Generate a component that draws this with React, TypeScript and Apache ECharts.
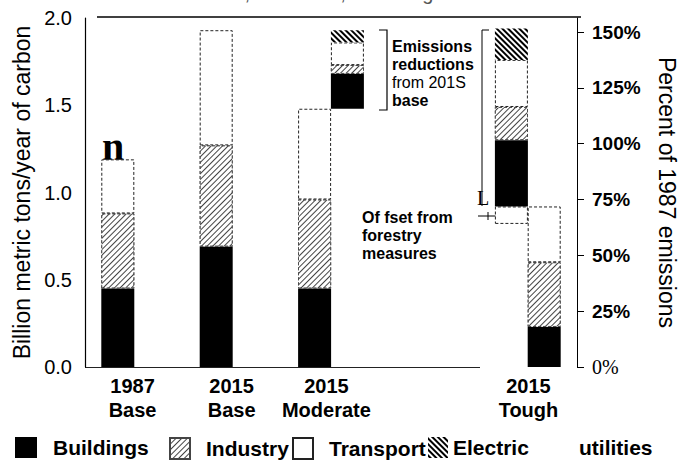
import React, { useEffect, useRef } from 'react';
import * as echarts from 'echarts';

// ---- data ----
const slotCount = 16;
const barNames = ['1987 Base', '2015 Base', '2015 Moderate', 'Moderate reductions', 'Tough reductions', '2015 Tough'];
const barSlots = [1, 4, 7, 8, 13, 14];
const buildings = [0.45, 0.69, 0.45, 0.20, 0.38, 0.23];
const industry = [0.43, 0.58, 0.51, 0.05, 0.19, 0.37];
const transport = [0.31, 0.66, 0.52, 0.13, 0.27, 0.32];
const electric = [0, 0, 0, 0.07, 0.18, 0];
const forestryOffset = [0, 0, 0, 0, 0.10, 0];
const floatBase = [0, 0, 0, 1.48, 0.82, 0];

const groupLabels = ['1987\nBase', '2015\nBase', '2015\nModerate', '2015\nTough'];
const groupLabelPos = [1.45, 4.47, 7.36, 13.52];
const rightTicks = [0, 25, 50, 75, 100, 125, 150];

const FONT = '"Liberation Sans", Arial, Helvetica, sans-serif';

const slotNames = Array.from({ length: slotCount }, (_, i) => {
  const k = barSlots.indexOf(i);
  return k >= 0 ? barNames[k] : 'slot' + i;
});

const expand = (arr: number[]) =>
  Array.from({ length: slotCount }, (_, i) => {
    const k = barSlots.indexOf(i);
    return k >= 0 && arr[k] ? arr[k] : '-';
  });

export default function App() {
  const ref = useRef<HTMLDivElement>(null);
  useEffect(() => {
    if (!ref.current) return;
    const chart = echarts.init(ref.current, null, { renderer: 'svg' });
    const barW = 33;
    const dashed = { borderColor: '#222', borderWidth: 1, borderType: [3, 2] as any };
    const legendText = {
      fontFamily: FONT,
      fontSize: 21,
      fontWeight: 'bold' as const,
      color: '#000',
      padding: [0, 0, 0, 11],
    };
    const mkLegend = (name: string, left: number, w = 22) => ({
      data: [name],
      left,
      top: 437,
      padding: 0,
      icon: 'rect',
      itemWidth: w,
      itemHeight: 21,
      selectedMode: false,
      textStyle: { ...legendText },
    });
    const option: any = {
      animation: false,
      backgroundColor: '#fff',
      grid: { left: 85, top: 18, width: 497, height: 349, containLabel: false },
      legend: [
        mkLegend('Buildings', 15),
        mkLegend('Industry', 169, 20),
        mkLegend('Transport', 292, 20),
        {
          ...mkLegend('Electric utilities', 428, 20),
          formatter: () => '{a|Electric}{b|utilities}',
          textStyle: {
            ...legendText,
            padding: 0,
            rich: {
              a: { fontFamily: FONT, fontSize: 21, fontWeight: 'bold', color: '#000', width: 126 },
              b: { fontFamily: FONT, fontSize: 21, fontWeight: 'bold', color: '#000' },
            },
          },
        },
      ],
      xAxis: [
        {
          type: 'category',
          data: slotNames,
          boundaryGap: false,
          axisLine: { show: false },
          axisTick: { show: false },
          axisLabel: { show: false },
          splitLine: { show: false },
        },
        {
          type: 'value',
          min: 0,
          max: 15,
          position: 'bottom',
          axisLine: { show: false },
          axisTick: { show: false },
          splitLine: { show: false },
          axisLabel: {
            customValues: groupLabelPos,
            formatter: (v: number) => {
              const k = groupLabelPos.findIndex((p) => Math.abs(p - v) < 0.01);
              return k >= 0 ? groupLabels[k] : '';
            },
            fontFamily: FONT,
            fontSize: 20,
            fontWeight: 'bold',
            lineHeight: 24,
            margin: 7,
            color: '#000',
          },
        },
      ],
      yAxis: [
        {
          type: 'value',
          min: 0,
          max: 2,
          interval: 0.5,
          position: 'left',
          axisLine: { show: true, lineStyle: { color: '#000', width: 1.2 } },
          axisTick: { show: false },
          splitLine: { show: false },
          axisLabel: {
            formatter: (v: number) => v.toFixed(1),
            fontFamily: FONT,
            fontSize: 20,
            margin: 13,
            color: '#000',
          },
          name: 'Billion metric tons/year of carbon',
          nameLocation: 'middle',
          nameRotate: 90,
          nameGap: 36,
          nameTextStyle: { fontFamily: FONT, fontSize: 23, color: '#000' },
        },
        {
          type: 'value',
          min: 0,
          max: 156.27,
          position: 'right',
          axisLine: { show: true, lineStyle: { color: '#000', width: 1 } },
          axisTick: { show: true, customValues: rightTicks, length: 7, lineStyle: { color: '#000' } },
          splitLine: { show: false },
          axisLabel: {
            customValues: rightTicks,
            formatter: (v: number) => (rightTicks.includes(v) ? (v === 0 ? '{s|0%}' : v + '%') : ''),
            fontFamily: FONT,
            fontSize: 19,
            fontWeight: 'bold',
            margin: 15,
            color: '#000',
            rich: { s: { fontFamily: '"Liberation Serif", serif', fontSize: 20, fontWeight: 'normal', color: '#000' } },
          },
          name: 'Percent of 1987 emissions',
          nameLocation: 'middle',
          nameRotate: -90,
          nameGap: 78,
          nameTextStyle: { fontFamily: FONT, fontSize: 23, color: '#000' },
        },
      ],
      series: [
        {
          name: 'base',
          type: 'bar',
          stack: 'a',
          barWidth: barW,
          silent: true,
          data: expand(floatBase),
          itemStyle: { color: 'rgba(0,0,0,0)' },
        },
        {
          name: 'Forestry offset',
          type: 'bar',
          stack: 'a',
          barWidth: barW,
          data: expand(forestryOffset),
          itemStyle: { color: '#fff', ...dashed },
        },
        {
          name: 'Buildings',
          type: 'bar',
          stack: 'a',
          barWidth: barW,
          data: expand(buildings),
          itemStyle: { color: '#000' },
        },
        {
          name: 'Industry',
          type: 'bar',
          stack: 'a',
          barWidth: barW,
          data: expand(industry),
          itemStyle: {
            color: '#fff',
            borderColor: '#444',
            borderWidth: 0.8,
            borderType: [3, 2],
            decal: {
              symbol: 'rect',
              symbolSize: 1,
              color: '#444',
              backgroundColor: '#fff',
              dashArrayX: [1, 0],
              dashArrayY: [1, 3],
              rotation: -Math.PI / 4,
            },
          },
        },
        {
          name: 'Transport',
          type: 'bar',
          stack: 'a',
          barWidth: barW,
          data: expand(transport),
          itemStyle: { color: '#fff', ...dashed },
        },
        {
          name: 'Electric utilities',
          type: 'bar',
          stack: 'a',
          barWidth: barW,
          data: expand(electric),
          itemStyle: {
            color: '#fff',
            decal: {
              symbol: 'rect',
              symbolSize: 1,
              color: '#000',
              backgroundColor: '#fff',
              dashArrayX: [1, 0],
              dashArrayY: [2, 1.5],
              rotation: Math.PI / 4,
            },
          },
        },
      ],
      graphic: [
        {
          type: 'text',
          left: 'center',
          top: -17,
          style: {
            text: 'Base Case, Moderate, and Tough Scenarios',
            font: '20px "Liberation Sans", Arial, sans-serif',
            fill: '#555',
          },
        },
        { type: 'line', shape: { x1: 97, y1: 17, x2: 581, y2: 17 }, style: { stroke: '#000', lineWidth: 1.5 } },
        { type: 'line', shape: { x1: 85, y1: 367.5, x2: 480, y2: 367.5 }, style: { stroke: '#222', lineWidth: 1 } },
        {
          type: 'text',
          x: 102,
          y: 166,
          style: { text: 'n', font: 'bold 40px "Liberation Serif", serif', fill: '#000', verticalAlign: 'bottom' },
        },
        {
          type: 'polyline',
          shape: { points: [[379, 30], [387, 30], [387, 110], [379, 110]] },
          style: { stroke: '#000', lineWidth: 1.2, fill: 'none' },
        },
        {
          type: 'text',
          x: 392,
          y: 37,
          style: {
            text: '{b|Emissions}\n{b|reductions}\n{r|from 201S}\n{b|base}',
            rich: {
              b: { font: 'bold 16px "Liberation Sans", Arial, sans-serif', fill: '#000', lineHeight: 18 },
              r: { font: '16px "Liberation Sans", Arial, sans-serif', fill: '#000', lineHeight: 18 },
            },
          },
        },
        {
          type: 'polyline',
          shape: { points: [[489, 30], [482, 30], [482, 206]] },
          style: { stroke: '#000', lineWidth: 1, fill: 'none' },
        },
        {
          type: 'text',
          x: 477,
          y: 208,
          style: { text: 'L', font: '20px "Liberation Serif", serif', fill: '#000', verticalAlign: 'bottom' },
        },
        { type: 'line', shape: { x1: 478, y1: 216, x2: 497, y2: 216 }, style: { stroke: '#000', lineWidth: 1 } },
        { type: 'line', shape: { x1: 488, y1: 212, x2: 488, y2: 220 }, style: { stroke: '#000', lineWidth: 1 } },
        {
          type: 'text',
          x: 362,
          y: 208,
          style: {
            text: 'Of fset from\nforestry\nmeasures',
            font: 'bold 16px "Liberation Sans", Arial, sans-serif',
            fill: '#000',
            lineHeight: 18,
          },
        },
      ],
    };
    chart.setOption(option);
    return () => chart.dispose();
  }, []);
  return <div ref={ref} style={{ width: 686, height: 463, position: 'absolute', left: 0, top: 0 }} />;
}
